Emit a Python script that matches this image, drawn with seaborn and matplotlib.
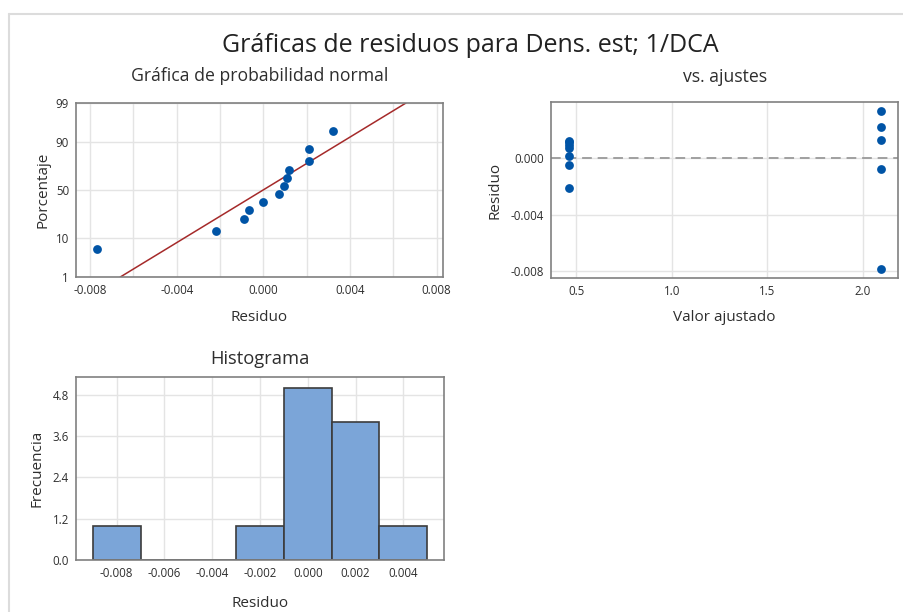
from statistics import NormalDist

import numpy as np
import pandas as pd
import matplotlib
matplotlib.use("Agg")
import matplotlib.pyplot as plt
from matplotlib.lines import Line2D
from matplotlib.ticker import MultipleLocator, FixedLocator
import seaborn as sns

# Datos leidos del grafico
# grafica de probabilidad normal: residuos ordenados y su porcentaje
prob_residuo = [-0.0077, -0.0022, -0.0009, -0.00065, 0.0, 0.00074,
                0.00095, 0.0011, 0.00117, 0.0021, 0.0021, 0.0032]
prob_pct = [5.6, 13.7, 21.8, 29.8, 37.9, 46.0, 54.0, 62.1, 70.2, 78.2, 86.3, 94.4]
pct_ticks = [1, 10, 50, 90, 99]

# vs. ajustes
ajuste = [0.463, 0.463, 0.463, 0.463, 0.463, 0.463, 0.463,
          2.094, 2.094, 2.094, 2.094, 2.094]
ajuste_residuo = [0.0012, 0.0011, 0.0009, 0.0007, 0.0001, -0.00054, -0.0021,
                  0.0033, 0.0022, 0.00125, -0.0008, -0.0078]

# histograma
bordes = [-0.009, -0.007, -0.005, -0.003, -0.001, 0.001, 0.003, 0.005]

AZUL = "#0054A6"
ROJO = "#A52A2A"
BARRA = "#7BA5D8"
GRIS = "#808080"
REJILLA = "#E4E4E4"
TEXTO = "#2E2E2E"

sns.set_theme(style="white")
plt.rcParams["font.family"] = ["Open Sans", "DejaVu Sans"]

fig = plt.figure(figsize=(9.04, 6.12), dpi=100)
W, H = 904, 612


def caja(x0, y0, x1, y1):
    return fig.add_axes([x0 / W, 1 - y1 / H, (x1 - x0) / W, (y1 - y0) / H])


def estilo(ax):
    for s in ax.spines.values():
        s.set_color(GRIS)
        s.set_linewidth(1.2)
    ax.tick_params(axis="both", which="major", length=3, width=0.8, color=GRIS,
                   labelsize=8.3, labelcolor=TEXTO, pad=2)
    ax.tick_params(axis="both", which="minor", length=0)
    ax.grid(True, which="both", color=REJILLA, linewidth=1)
    ax.set_axisbelow(True)


ax1 = caja(76, 103, 443, 277)
ax2 = caja(551, 102, 898, 278)
ax3 = caja(76, 377, 444, 560)

# --- probabilidad normal ---
nd = NormalDist()
df1 = pd.DataFrame({"residuo": prob_residuo,
                    "z": [nd.inv_cdf(p / 100) for p in prob_pct]})
mu = np.mean(prob_residuo)
sd = np.std(prob_residuo, ddof=1)
zl = [nd.inv_cdf(0.01), nd.inv_cdf(0.99)]
linea = pd.DataFrame({"residuo": [mu + sd * z for z in zl], "z": zl})
sns.lineplot(data=linea, x="residuo", y="z", color=ROJO, linewidth=1.1, ax=ax1)
sns.scatterplot(data=df1, x="residuo", y="z", color=AZUL, s=40, linewidth=0,
                ax=ax1, zorder=3)
ax1.set_xlim(-0.00865, 0.0083)
ax1.set_ylim(zl[0], zl[1])
estilo(ax1)
ax1.set_yticks([nd.inv_cdf(p / 100) for p in pct_ticks])
ax1.set_yticklabels([str(p) for p in pct_ticks])
ax1.xaxis.set_major_locator(FixedLocator([-0.008, -0.004, 0.0, 0.004, 0.008]))
ax1.xaxis.set_minor_locator(MultipleLocator(0.002))
ax1.set_xticklabels(["-0.008", "-0.004", "0.000", "0.004", "0.008"])
ax1.set_xlabel("Residuo", fontsize=11, color=TEXTO)
ax1.set_ylabel("Porcentaje", fontsize=11, color=TEXTO)
ax1.xaxis.set_label_coords(0.5, -0.235)
ax1.yaxis.set_label_coords(-0.09, 0.5)
ax1.xaxis.label.set_va("center")
ax1.yaxis.label.set_va("center")

# --- vs. ajustes ---
df2 = pd.DataFrame({"ajuste": ajuste, "residuo": ajuste_residuo})
ax2.axhline(0, color="#A0A0A0", linewidth=1.4, linestyle=(0, (5, 3)), zorder=2)
sns.scatterplot(data=df2, x="ajuste", y="residuo", color=AZUL, s=40,
                linewidth=0, ax=ax2, zorder=3)
ax2.set_xlim(0.369, 2.183)
ax2.set_ylim(-0.00846, 0.00393)
estilo(ax2)
ax2.set_xticks([0.5, 1.0, 1.5, 2.0])
ax2.set_xticklabels(["0.5", "1.0", "1.5", "2.0"])
ax2.set_yticks([0.0, -0.004, -0.008])
ax2.set_yticklabels(["0.000", "-0.004", "-0.008"])
ax2.set_xlabel("Valor ajustado", fontsize=11, color=TEXTO)
ax2.set_ylabel("Residuo", fontsize=11, color=TEXTO)
ax2.xaxis.set_label_coords(0.5, -0.227)
ax2.yaxis.set_label_coords(-0.16, 0.5)
ax2.xaxis.label.set_va("center")
ax2.yaxis.label.set_va("center")

# --- histograma ---
sns.histplot(x=prob_residuo, bins=bordes, stat="count", color=BARRA, alpha=1,
             edgecolor="#3C3C3C", linewidth=1.2, ax=ax3, zorder=2)
ax3.set_xlim(-0.0097, 0.0057)
ax3.set_ylim(0, 5.32)
estilo(ax3)
ax3.set_xticks([-0.008, -0.006, -0.004, -0.002, 0.0, 0.002, 0.004])
ax3.set_xticklabels(["-0.008", "-0.006", "-0.004", "-0.002", "0.000", "0.002", "0.004"])
ax3.set_yticks([0.0, 1.2, 2.4, 3.6, 4.8])
ax3.set_yticklabels(["0.0", "1.2", "2.4", "3.6", "4.8"])
ax3.set_xlabel("Residuo", fontsize=11, color=TEXTO)
ax3.set_ylabel("Frecuencia", fontsize=11, color=TEXTO)
ax3.xaxis.set_label_coords(0.5, -0.235)
ax3.yaxis.set_label_coords(-0.105, 0.5)
ax3.xaxis.label.set_va("center")
ax3.yaxis.label.set_va("center")

# --- titulos ---
fig.text(470 / W, 1 - 45 / H, "Gráficas de residuos para Dens. est; 1/DCA",
         ha="center", va="center", fontsize=18, color="#222222")
fig.text(260 / W, 1 - 76 / H, "Gráfica de probabilidad normal",
         ha="center", va="center", fontsize=12.7, color=TEXTO)
fig.text(725 / W, 1 - 77 / H, "vs. ajustes",
         ha="center", va="center", fontsize=12.7, color=TEXTO)
fig.text(260 / W, 1 - 359 / H, "Histograma",
         ha="center", va="center", fontsize=13.2, color=TEXTO)

# marco de la ventana
fig.add_artist(Line2D([9 / W, 9 / W], [0, 1 - 14 / H], color="#DCDCDC", linewidth=1.5))
fig.add_artist(Line2D([9 / W, 1], [1 - 14 / H, 1 - 14 / H], color="#DCDCDC", linewidth=1.5))

fig.savefig("out.png", dpi=100)
